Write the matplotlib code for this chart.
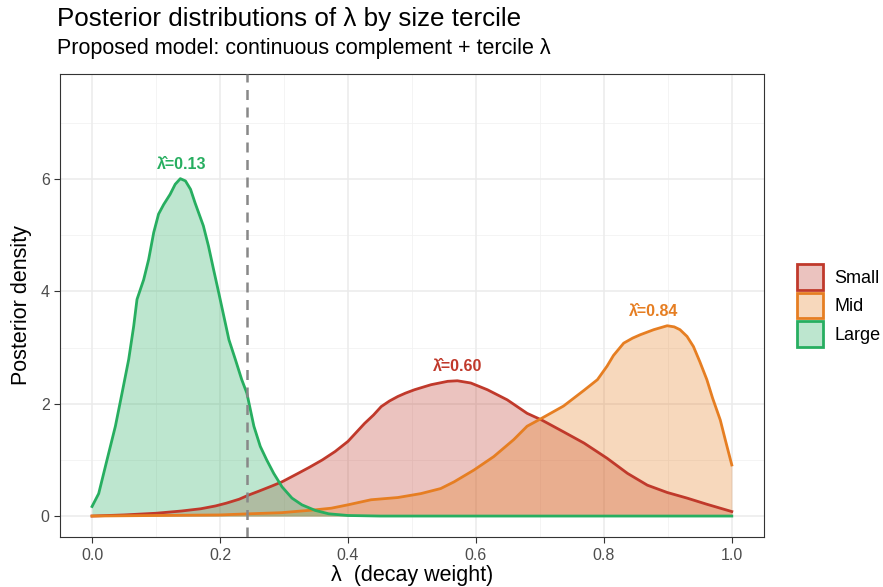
import matplotlib
matplotlib.use("Agg")
import matplotlib.pyplot as plt
from matplotlib.patches import Patch

plt.rcParams['font.family'] = ['Liberation Sans', 'DejaVu Sans']

# posterior density curves
small_x = [0.0, 0.05, 0.10, 0.14, 0.17, 0.193, 0.21, 0.23, 0.245, 0.26, 0.28, 0.297, 0.322,
           0.34, 0.36, 0.38, 0.40, 0.413, 0.426, 0.44, 0.452, 0.465, 0.478, 0.49, 0.504,
           0.530, 0.556, 0.571, 0.592, 0.618, 0.649, 0.680, 0.703, 0.737, 0.769, 0.805,
           0.837, 0.868, 0.899, 0.930, 0.961, 1.0]
small_y = [0.0, 0.02, 0.05, 0.09, 0.13, 0.18, 0.23, 0.30, 0.375, 0.44, 0.53, 0.61, 0.76,
           0.87, 1.0, 1.15, 1.33, 1.49, 1.65, 1.80, 1.95, 2.05, 2.13, 2.19, 2.25,
           2.34, 2.40, 2.41, 2.37, 2.25, 2.07, 1.83, 1.71, 1.50, 1.30, 1.03,
           0.76, 0.55, 0.42, 0.32, 0.21, 0.08]

mid_x = [0.0, 0.2, 0.245, 0.296, 0.348, 0.374, 0.40, 0.436, 0.478, 0.514, 0.545, 0.566,
         0.597, 0.628, 0.659, 0.680, 0.701, 0.737, 0.769, 0.790, 0.805, 0.815, 0.831,
         0.845, 0.857, 0.878, 0.899, 0.91, 0.919, 0.93, 0.940, 0.95, 0.961, 0.97, 0.982,
         0.99, 1.0]
mid_y = [0.0, 0.02, 0.04, 0.06, 0.11, 0.14, 0.20, 0.29, 0.33, 0.40, 0.49, 0.61,
         0.82, 1.06, 1.36, 1.60, 1.73, 1.96, 2.24, 2.43, 2.67, 2.86, 3.08,
         3.17, 3.23, 3.32, 3.39, 3.37, 3.32, 3.20, 3.02, 2.75, 2.43, 2.10, 1.71,
         1.35, 0.91]

large_x = [0.0, 0.0104, 0.0234, 0.0365, 0.0469, 0.0573, 0.0651, 0.0703, 0.0807, 0.0885,
           0.0964, 0.104, 0.112, 0.122, 0.130, 0.138, 0.146, 0.154, 0.161, 0.174, 0.182,
           0.190, 0.198, 0.206, 0.214, 0.224, 0.234, 0.242, 0.253, 0.263, 0.273, 0.284,
           0.297, 0.3125, 0.328, 0.349, 0.37, 0.40, 0.45, 1.0]
large_y = [0.17, 0.40, 1.0, 1.60, 2.19, 2.79, 3.38, 3.86, 4.21, 4.57,
           5.05, 5.38, 5.55, 5.73, 5.91, 6.01, 5.97, 5.82, 5.58, 5.17, 4.81,
           4.39, 3.98, 3.56, 3.14, 2.79, 2.43, 2.19, 1.60, 1.24, 1.0, 0.76,
           0.52, 0.32, 0.20, 0.10, 0.04, 0.01, 0.0, 0.0]

groups = ['Small', 'Mid', 'Large']
colors = ['#C0392B', '#E67E22', '#27AE60']
means = [0.60, 0.84, 0.13]
peak_x = [0.572, 0.878, 0.14]
peak_y = [2.41, 3.39, 6.01]
threshold = 0.242

fig = plt.figure(figsize=(8.83, 5.87), dpi=100)
ax = fig.add_axes([0.068, 0.085, 0.797, 0.789])

# grid like theme_bw
for v in [0.1, 0.3, 0.5, 0.7, 0.9]:
    ax.axvline(v, color='#F2F2F2', lw=0.6, zorder=0)
for v in [1, 3, 5, 7]:
    ax.axhline(v, color='#F2F2F2', lw=0.6, zorder=0)
for v in [0, 0.2, 0.4, 0.6, 0.8, 1.0]:
    ax.axvline(v, color='#EBEBEB', lw=1.1, zorder=0)
for v in [0, 2, 4, 6]:
    ax.axhline(v, color='#EBEBEB', lw=1.1, zorder=0)

data = [(small_x, small_y), (mid_x, mid_y), (large_x, large_y)]
for (xs, ys), c in zip(data, colors):
    ax.fill_between(xs, 0, ys, color=c, alpha=0.3, lw=0, zorder=2)
    ax.plot(xs, ys, color=c, lw=2, zorder=3, solid_joinstyle='round')

ax.axvline(threshold, color='#888888', lw=1.8, ls=(0, (4, 3)), zorder=4)

for px, py, m, c in zip(peak_x, peak_y, means, colors):
    ax.text(px, py + 0.12, 'λ\u0302=%.2f' % m, color=c, fontsize=11.5,
            fontweight='bold', ha='center', va='bottom', zorder=5)

ax.set_xlim(-0.05, 1.05)
ax.set_ylim(-0.375, 7.875)
ax.set_xticks([0.0, 0.2, 0.4, 0.6, 0.8, 1.0])
ax.set_xticklabels(['0.0', '0.2', '0.4', '0.6', '0.8', '1.0'])
ax.set_yticks([0, 2, 4, 6])
ax.tick_params(colors='#333333', labelcolor='#4D4D4D', labelsize=11.5, length=4, width=0.8)
for s in ax.spines.values():
    s.set_color('#333333')
    s.set_linewidth(0.8)

ax.set_xlabel('λ  (decay weight)', fontsize=15.5, labelpad=2)
ax.set_ylabel('Posterior density', fontsize=15.5, labelpad=6)

fig.text(0.064, 0.968, 'Posterior distributions of λ by size tercile', fontsize=18.7,
         ha='left', va='center')
fig.text(0.064, 0.918, 'Proposed model: continuous complement + tercile λ', fontsize=15.5,
         ha='left', va='center')

handles = []
for c in colors:
    handles.append(Patch(facecolor=matplotlib.colors.to_rgba(c, 0.3), edgecolor=c, lw=2))
leg = fig.legend(handles, groups, loc='center left', bbox_to_anchor=(0.9026, 0.4796),
                 frameon=False, fontsize=13, handlelength=1.45, handleheight=1.8,
                 handletextpad=0.6, labelspacing=0.15, borderpad=0, borderaxespad=0)

fig.savefig('out.png', dpi=100)
